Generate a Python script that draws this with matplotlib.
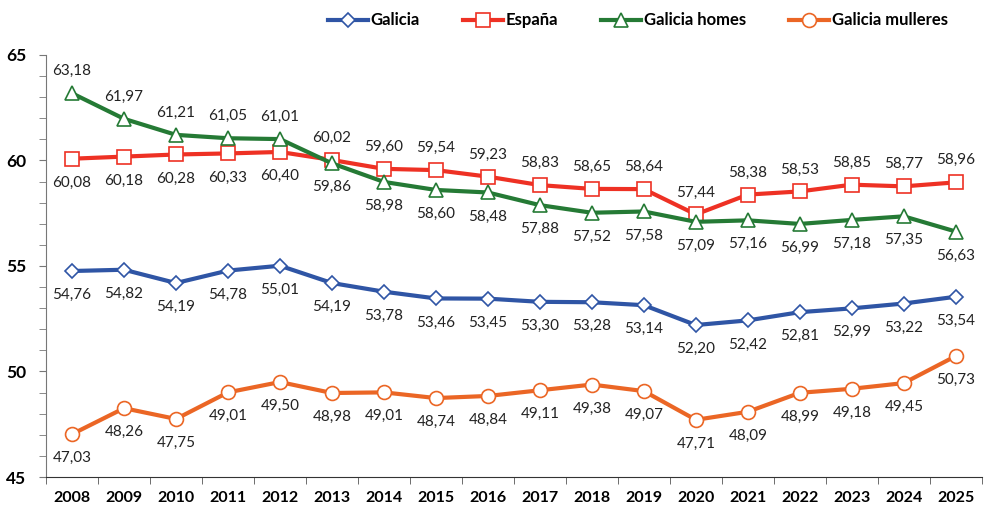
import matplotlib
matplotlib.use("Agg")
import matplotlib.pyplot as plt
from matplotlib.ticker import MultipleLocator, FixedLocator

years = [str(y) for y in range(2008, 2026)]
galicia = [54.76, 54.82, 54.19, 54.78, 55.01, 54.19, 53.78, 53.46, 53.45,
           53.30, 53.28, 53.14, 52.20, 52.42, 52.81, 52.99, 53.22, 53.54]
espana = [60.08, 60.18, 60.28, 60.33, 60.40, 60.02, 59.60, 59.54, 59.23,
          58.83, 58.65, 58.64, 57.44, 58.38, 58.53, 58.85, 58.77, 58.96]
homes = [63.18, 61.97, 61.21, 61.05, 61.01, 59.86, 58.98, 58.60, 58.48,
         57.88, 57.52, 57.58, 57.09, 57.16, 56.99, 57.18, 57.35, 56.63]
mulleres = [47.03, 48.26, 47.75, 49.01, 49.50, 48.98, 49.01, 48.74, 48.84,
            49.11, 49.38, 49.07, 47.71, 48.09, 48.99, 49.18, 49.45, 50.73]

# (label, values, colour, marker, size, label side per point)
series = [
    ("Galicia", galicia, "#2F55A5", "D", 7.5, ["below"] * 18),
    ("España", espana, "#EE3124", "s", 10, ["below"] * 5 + ["above"] * 13),
    ("Galicia homes", homes, "#257A35", "^", 10, ["above"] * 5 + ["below"] * 13),
    ("Galicia mulleres", mulleres, "#EB6625", "o", 10, ["below"] * 18),
]

plt.rcParams["font.family"] = ["Lato", "DejaVu Sans"]

fig = plt.figure(figsize=(9.86, 5.08), dpi=100)
ax = fig.add_axes([0.0467, 0.061, 0.949, 0.831])
x = list(range(len(years)))

for name, vals, col, mk, ms, sides in series:
    ax.plot(x, vals, color=col, lw=3, marker=mk, ms=ms, mfc="white",
            mec=col, mew=1.2, label=name, zorder=3)
    for xi, v, s in zip(x, vals, sides):
        dy = 22 if s == "above" else -24
        ax.annotate(f"{v:.2f}".replace(".", ","), (xi, v), textcoords="offset pixels",
                    xytext=(0, dy), ha="center", va="center", fontsize=11,
                    color="#222222")

ax.set_xlim(-0.5, len(years) - 0.5)
ax.set_ylim(45, 65)
ax.yaxis.set_major_locator(MultipleLocator(5))
ax.yaxis.set_minor_locator(MultipleLocator(1))
ax.xaxis.set_major_locator(FixedLocator(x))
ax.xaxis.set_minor_locator(FixedLocator([i - 0.5 for i in range(len(years) + 1)]))
ax.set_xticklabels(years, fontweight="bold", fontsize=11.5)
ax.tick_params(axis="x", which="major", length=0, pad=10)
ax.tick_params(axis="x", which="minor", length=5, color="#555555")
ax.tick_params(axis="y", which="both", length=5, color="#777777")
ax.tick_params(axis="y", which="major", labelsize=12.5, pad=9)
for lbl in ax.get_yticklabels():
    lbl.set_fontweight("bold")
for sp in ["top", "right"]:
    ax.spines[sp].set_visible(False)
ax.spines["left"].set_color("#777777")
ax.spines["bottom"].set_color("#333333")

fig.legend(loc="upper center", bbox_to_anchor=(0.647, 1.005), ncol=4, frameon=False,
           prop={"weight": "bold", "size": 12}, handlelength=2.4, columnspacing=2.6,
           handletextpad=0.15)

fig.savefig("out.png", dpi=100)
